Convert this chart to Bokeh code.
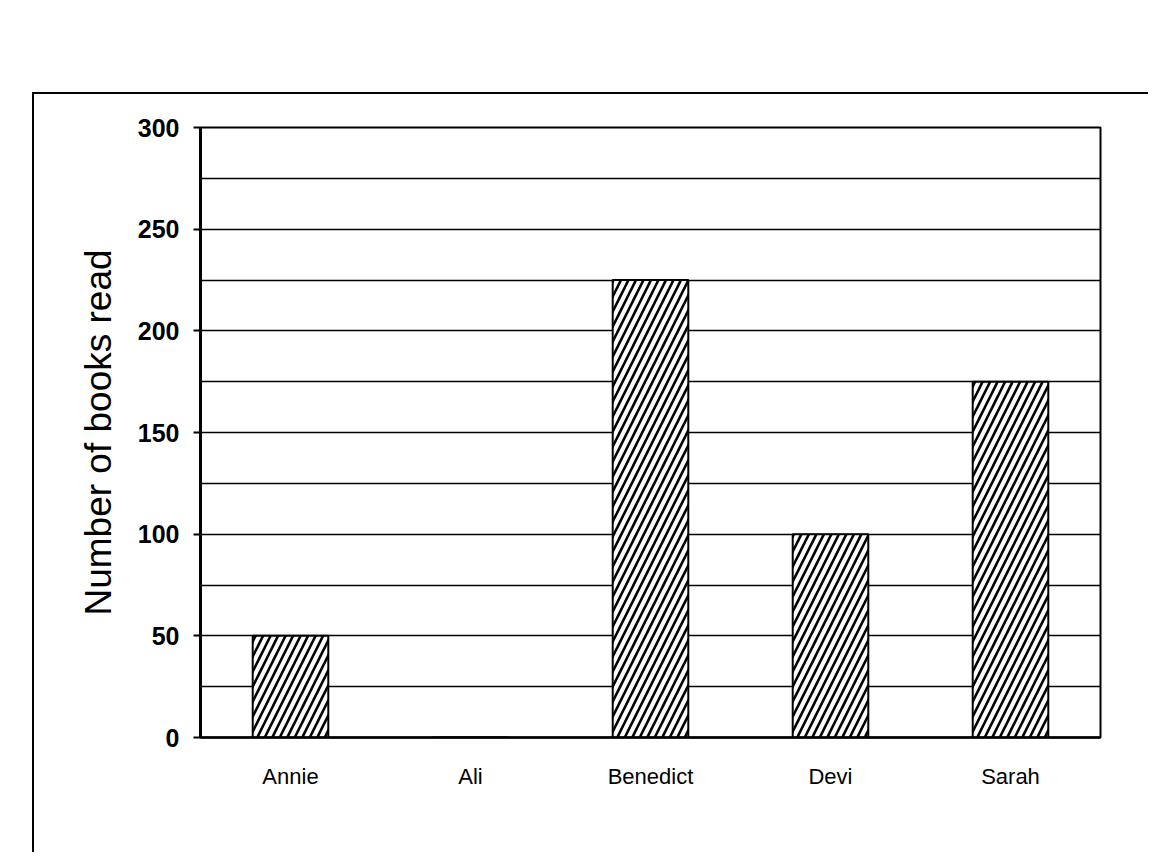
from bokeh.plotting import figure
from bokeh.models import FactorRange, SingleIntervalTicker, ColumnDataSource
from bokeh.embed import file_html
from bokeh.resources import INLINE

names = ["Annie", "Ali", "Benedict", "Devi", "Sarah"]
books = [50, 0, 225, 100, 175]
y_ticks_interval = 50
grid_interval = 25

src = ColumnDataSource(dict(names=names, books=books))

p = figure(x_range=FactorRange(*names, range_padding=0), y_range=(0, 300),
           width=1116, height=760, output_backend="svg", toolbar_location=None,
           min_border_left=166, min_border_top=33, min_border_right=50, min_border_bottom=117)
p.margin = (92, 0, 0, 32)
p.styles = {"border-left": "2px solid black", "border-top": "2px solid black"}

p.vbar(x="names", top="books", width=0.42, source=src, fill_color="white",
       line_color="black", line_width=2, hatch_pattern="/", hatch_color="black",
       hatch_scale=15, hatch_weight=2.6)

p.outline_line_color = "black"
p.outline_line_width = 2
p.background_fill_color = "white"
p.border_fill_color = "white"

p.xgrid.grid_line_color = None
p.ygrid.ticker = SingleIntervalTicker(interval=grid_interval)
p.ygrid.grid_line_color = "black"
p.ygrid.grid_line_width = 1.6
p.ygrid.level = "underlay"

p.yaxis.ticker = SingleIntervalTicker(interval=y_ticks_interval)
p.yaxis.axis_line_width = 3
p.yaxis.axis_line_color = "black"
p.yaxis.major_tick_out = 7
p.yaxis.major_tick_in = 0
p.yaxis.major_tick_line_width = 2
p.yaxis.minor_tick_line_color = None
p.yaxis.major_label_text_font = "Liberation Sans"
p.yaxis.major_label_text_font_size = "25px"
p.yaxis.major_label_text_font_style = "bold"
p.yaxis.major_label_text_color = "black"
p.yaxis.major_label_standoff = 14
p.yaxis.axis_label = "Number of books read"
p.yaxis.axis_label_text_font = "Liberation Sans"
p.yaxis.axis_label_text_font_size = "37px"
p.yaxis.axis_label_text_font_style = "normal"
p.yaxis.axis_label_text_color = "black"
p.yaxis.axis_label_standoff = 16

p.xaxis.axis_line_width = 2.5
p.xaxis.axis_line_color = "black"
p.xaxis.major_tick_line_color = None
p.xaxis.major_label_text_font = "Liberation Sans"
p.xaxis.major_label_text_font_size = "22px"
p.xaxis.major_label_text_color = "black"
p.xaxis.major_label_standoff = 20

open("out.html", "w").write(file_html(p, INLINE))
